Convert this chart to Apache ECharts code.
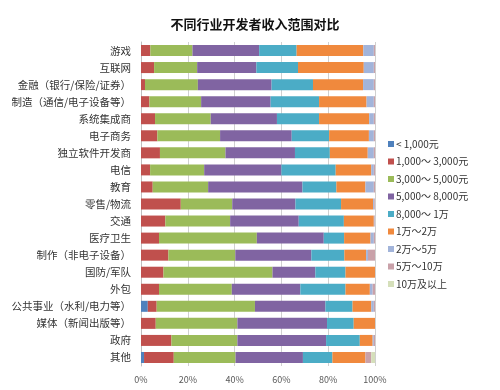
<!DOCTYPE html>
<html><head><meta charset="utf-8">
<script src="https://cdn.jsdelivr.net/npm/echarts@6/dist/echarts.min.js"></script>
<style>html,body{margin:0;padding:0;background:#fff}#c{width:500px;height:390px}</style>
</head><body><div id="c"></div>
<script>
const categories = ["游戏","互联网","金融（银行/保险/证券）","制造（通信/电子设备等）","系统集成商","电子商务","独立软件开发商","电信","教育","零售/物流","交通","医疗卫生","制作（非电子设备）","国防/军队","外包","公共事业（水利/电力等）","媒体（新闻出版等）","政府","其他"];
const seriesNames = ["< 1,000元","1,000～ 3,000元","3,000～ 5,000元","5,000～ 8,000元","8,000～ 1万","1万～2万","2万～5万","5万～10万","10万及以上"];
const s1 = [0,0,0,0,0,0,0,0,0,0,0,0,0,0,0,2.9,0,0,1.3];
const s2 = [4,5.6,1.7,3.6,6,7,8.1,3.9,5,17,10.4,7.7,11.7,9.6,7.7,3.8,6.3,13,12.7];
const s3 = [18,18.4,22.6,22.1,23.8,26.8,28,23.1,23.7,22,27.7,41.8,28.6,46.6,31.1,42,34.9,28.2,26.4];
const s4 = [28.5,25.3,31.5,29.7,28.3,30.6,29.7,33,40.3,27,29.3,28.6,32.5,18.3,29.3,30.1,38.3,37.9,28.8];
const s5 = [16,17.8,17.7,20.7,18,16,14.9,23.2,14.5,19.5,19.3,8.7,14.1,12.9,19.3,11.6,11.4,14.4,12.6];
const s6 = [28.5,28.1,21.4,20.3,21.4,17,16.2,15.2,12.4,13.7,12.8,11.3,9.3,12.6,10.4,8,9.1,5.5,14.1];
const s7 = [4.5,4.3,4.6,3.1,2,2.1,2.6,1.1,3.6,0.5,0.3,1.4,0.8,0,1.2,1.1,0,0.5,0];
const s8 = [0.5,0.5,0.5,0.5,0.5,0.5,0.5,0.5,0.5,0.3,0.2,0.5,3,0,1,0.5,0,0.5,2.5];
const s9 = [0,0,0,0,0,0,0,0,0,0,0,0,0,0,0,0,0,0,1.6];
const xTicks = [0,20,40,60,80,100];
const allData = [s1,s2,s3,s4,s5,s6,s7,s8,s9];
const colors = ["#4F81BD","#C0504D","#9BBB59","#8064A2","#4BACC6","#F0893D","#A2B4DA","#C9A1A9","#D5DFBA"];
const chart = echarts.init(document.getElementById('c'));
chart.setOption({
  animation:false,
  color: colors,
  title:{text:"不同行业开发者收入范围对比",left:250,textAlign:'center',top:13,textStyle:{fontSize:13,fontWeight:'bold',color:'#111',fontFamily:'Noto Sans CJK SC'}},
  legend:{orient:'vertical',left:383,top:134,itemWidth:6,itemHeight:6,itemGap:7.5,icon:'rect',
    textStyle:{fontSize:10,color:'#333',fontFamily:'Noto Sans CJK SC',padding:[0,0,0,-3]},data:seriesNames},
  grid:{left:141,right:125,top:42,bottom:24,containLabel:false},
  xAxis:{type:'value',min:xTicks[0],max:xTicks[xTicks.length-1],interval:20,
    axisLabel:{formatter:'{value}%',fontSize:9,color:'#595959',margin:9,fontFamily:'Noto Sans CJK SC'},
    splitLine:{lineStyle:{color:'#d0d0d0'}},axisLine:{show:false},axisTick:{show:false}},
  yAxis:{type:'category',inverse:true,data:categories,
    axisLine:{show:true,lineStyle:{color:'#bfbfbf'}},axisTick:{show:false},
    axisLabel:{fontSize:10.5,color:'#333',margin:10,fontFamily:'Noto Sans CJK SC'}},
  series: seriesNames.map((n,i)=>({name:n,type:'bar',stack:'all',barWidth:11,data:allData[i]}))
});
</script></body></html>
